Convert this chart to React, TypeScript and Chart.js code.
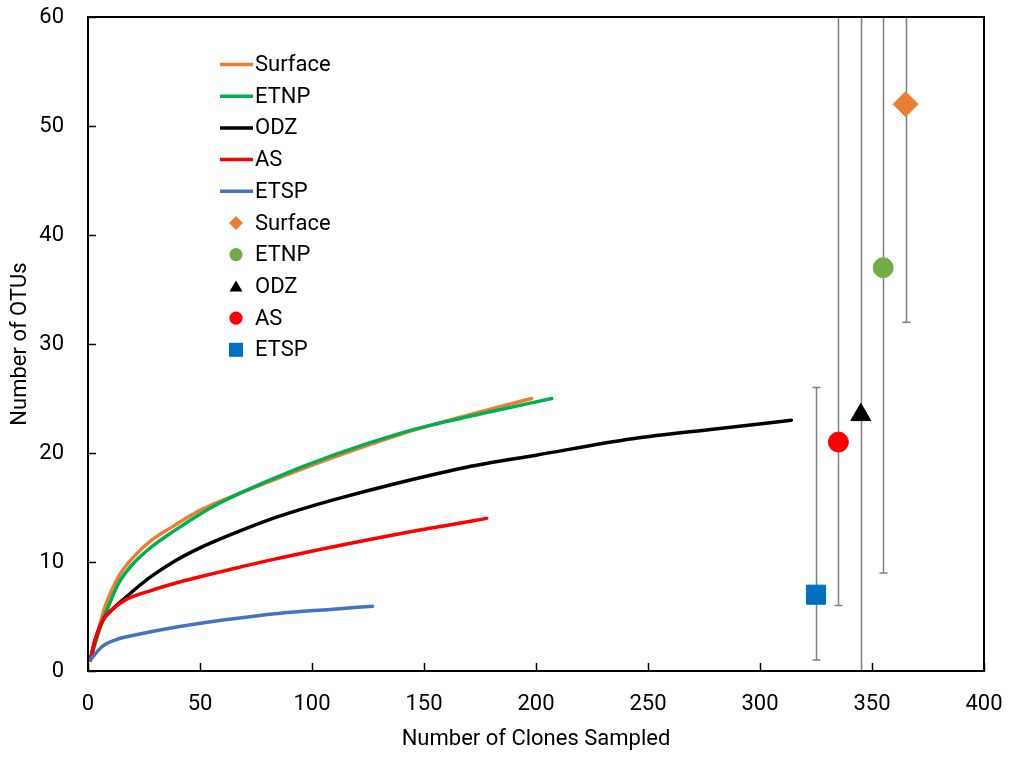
import React, { useEffect, useRef } from 'react';
import { Chart, registerables } from 'chart.js';

Chart.register(...registerables);

// ---------- data ----------
const seriesNames = ['Surface', 'ETNP', 'ODZ', 'AS', 'ETSP'];
const lineColors = ['#ED7D31', '#00B050', '#000000', '#FF0000', '#4472C4'];

const surfaceX = [1, 4.6, 7.6, 10.6, 15, 21, 28.4, 37.4, 47.8, 58.2, 80, 109.5, 139.3, 170, 198];
const surfaceY = [1, 3.76, 5.9, 7.4, 9.1, 10.6, 12.0, 13.2, 14.5, 15.5, 17.3, 19.6, 21.7, 23.5, 25];

const etnpX = [1, 5.6, 9.1, 13.5, 19.5, 28.4, 38.8, 49.2, 59.7, 79.8, 109.5, 139.3, 154, 180, 207];
const etnpY = [1, 4.1, 5.9, 8.0, 9.7, 11.4, 12.9, 14.3, 15.5, 17.4, 19.8, 21.8, 22.6, 23.8, 25];

const odzX = [1, 3.1, 6.8, 10.6, 16, 21, 28.4, 38.8, 50, 61.2, 79.8, 94.6, 109.5, 139.3, 169, 200, 243, 280, 314];
const odzY = [1, 2.8, 4.7, 5.6, 6.6, 7.5, 8.7, 10.1, 11.3, 12.3, 13.8, 14.8, 15.7, 17.3, 18.7, 19.8, 21.3, 22.2, 23.0];

const asX = [1, 3.1, 6.8, 10.6, 16.5, 28.4, 43.3, 50, 61.2, 79.8, 109.5, 139.3, 160, 178];
const asY = [1, 2.8, 4.7, 5.6, 6.5, 7.4, 8.3, 8.65, 9.2, 10.1, 11.4, 12.6, 13.35, 14.0];

const etspX = [1, 6.1, 12.1, 21, 35.8, 61.2, 86, 108, 127];
const etspY = [1, 2.2, 2.84, 3.3, 3.9, 4.7, 5.3, 5.65, 5.95];

const lineXs = [surfaceX, etnpX, odzX, asX, etspX];
const lineYs = [surfaceY, etnpY, odzY, asY, etspY];

const markerX = [365, 355, 345, 335, 325];
const markerY = [52, 37, 23.5, 21, 7];
const markerLow = [32, 9, -5, 6, 1];
const markerHigh = [90, 90, 90, 90, 26];
const markerColors = ['#ED7D31', '#70AD47', '#000000', '#FF0000', '#0070C0'];
const markerStyles = ['rectRot', 'circle', 'triangle', 'circle', 'rect'];
const markerRadii = [12.5, 10, 11.5, 10, 13.5];

const xTicks = [0, 50, 100, 150, 200, 250, 300, 350, 400];
const yTicks = [0, 10, 20, 30, 40, 50, 60];

const xTitle = 'Number of Clones Sampled';
const yTitle = 'Number of OTUs';

// ---------- styling ----------
const FAMILY = 'Roboto';
const FSIZE = 22;

function drawLegendMarker(ctx: CanvasRenderingContext2D, style: string, x: number, y: number, color: string) {
  ctx.fillStyle = color;
  ctx.beginPath();
  if (style === 'rectRot') {
    const r = 7;
    ctx.moveTo(x - r, y);
    ctx.lineTo(x, y - r);
    ctx.lineTo(x + r, y);
    ctx.lineTo(x, y + r);
    ctx.closePath();
  } else if (style === 'circle') {
    ctx.arc(x, y, 6.6, 0, Math.PI * 2);
  } else if (style === 'triangle') {
    ctx.moveTo(x, y - 6);
    ctx.lineTo(x + 6.5, y + 5);
    ctx.lineTo(x - 6.5, y + 5);
    ctx.closePath();
  } else {
    ctx.rect(x - 7, y - 7, 14, 14);
  }
  ctx.fill();
}

const decorPlugin = {
  id: 'decor',
  beforeDatasetsDraw(chart: any) {
    const { ctx, chartArea: a, scales } = chart;
    const xs = scales.x;
    const ys = scales.y;
    ctx.save();
    ctx.beginPath();
    ctx.rect(a.left, a.top, a.right - a.left, a.bottom - a.top);
    ctx.clip();
    ctx.strokeStyle = '#808080';
    ctx.lineWidth = 1.5;
    markerX.forEach((mx, i) => {
      const px = Math.round(xs.getPixelForValue(mx)) + 0.5;
      const lo = ys.getPixelForValue(markerLow[i]);
      const hi = ys.getPixelForValue(markerHigh[i]);
      ctx.beginPath();
      ctx.moveTo(px, lo);
      ctx.lineTo(px, hi);
      ctx.moveTo(px - 4, lo);
      ctx.lineTo(px + 4, lo);
      ctx.moveTo(px - 4, hi);
      ctx.lineTo(px + 4, hi);
      ctx.stroke();
    });
    ctx.restore();
  },
  afterDraw(chart: any) {
    const { ctx, chartArea: a, scales } = chart;
    const xs = scales.x;
    const ys = scales.y;
    ctx.save();
    // frame
    ctx.strokeStyle = '#000';
    ctx.lineWidth = 2;
    ctx.strokeRect(a.left, a.top, a.right - a.left, a.bottom - a.top);
    // inward ticks
    ctx.lineWidth = 1.5;
    ctx.beginPath();
    xTicks.forEach((t) => {
      const px = Math.round(xs.getPixelForValue(t)) + 0.5;
      ctx.moveTo(px, a.bottom);
      ctx.lineTo(px, a.bottom - 8);
    });
    yTicks.forEach((t) => {
      const py = Math.round(ys.getPixelForValue(t)) + 0.5;
      ctx.moveTo(a.left, py);
      ctx.lineTo(a.left + 8, py);
    });
    ctx.stroke();

    // legend
    const lx0 = 220;
    const lx1 = 253;
    const tx = 255;
    const y0 = 64.5;
    const dy = 31.7;
    ctx.font = `${FSIZE}px ${FAMILY}`;
    ctx.textBaseline = 'middle';
    ctx.textAlign = 'left';
    let row = 0;
    seriesNames.forEach((name, i) => {
      const yy = y0 + dy * row;
      ctx.strokeStyle = lineColors[i];
      ctx.lineWidth = 3.5;
      ctx.beginPath();
      ctx.moveTo(lx0, yy);
      ctx.lineTo(lx1, yy);
      ctx.stroke();
      ctx.fillStyle = '#000';
      ctx.fillText(name, tx, yy + 1);
      row++;
    });
    seriesNames.forEach((name, i) => {
      const yy = y0 + dy * row;
      drawLegendMarker(ctx, markerStyles[i], 236, yy, markerColors[i]);
      ctx.fillStyle = '#000';
      ctx.fillText(name, tx, yy + 1);
      row++;
    });
    ctx.restore();
  },
};

export default function App() {
  const ref = useRef<HTMLCanvasElement>(null);

  useEffect(() => {
    if (!ref.current) return;
    const lineSets = seriesNames.map((name, i) => ({
      label: name,
      data: lineXs[i].map((x, j) => ({ x, y: lineYs[i][j] })),
      showLine: true,
      borderColor: lineColors[i],
      backgroundColor: lineColors[i],
      borderWidth: 3.5,
      borderCapStyle: 'round' as const,
      borderJoinStyle: 'round' as const,
      pointRadius: 0,
      cubicInterpolationMode: 'monotone' as const,
      fill: false,
      order: 10 - i,
    }));
    const markerSets = seriesNames.map((name, i) => ({
      label: name + ' obs',
      data: [{ x: markerX[i], y: markerY[i] }],
      showLine: false,
      pointStyle: markerStyles[i],
      pointRadius: markerRadii[i],
      pointBackgroundColor: markerColors[i],
      pointBorderColor: markerColors[i],
      pointBorderWidth: 1,
      order: i,
    }));

    const font = { family: FAMILY, size: FSIZE };
    const chart = new Chart(ref.current, {
      type: 'scatter',
      data: { datasets: [...lineSets, ...markerSets] as any },
      options: {
        responsive: false,
        animation: false,
        events: [],
        layout: { padding: { top: 17, right: 25, left: 0, bottom: 0 } },
        plugins: {
          legend: { display: false },
          tooltip: { enabled: false },
        },
        scales: {
          x: {
            type: 'linear',
            min: 0,
            max: 400,
            afterBuildTicks: (s: any) => {
              s.ticks = xTicks.map((v) => ({ value: v }));
            },
            ticks: { font, color: '#000', padding: 20, maxRotation: 0 },
            grid: { display: false, drawTicks: false },
            border: { display: false },
            title: { display: true, text: xTitle, font, color: '#000', padding: { top: 0, bottom: 4 } },
            afterFit: (s: any) => {
              s.height = 86;
              s.paddingLeft = 0;
              s.paddingRight = 0;
            },
          },
          y: {
            type: 'linear',
            min: 0,
            max: 60,
            afterBuildTicks: (s: any) => {
              s.ticks = yTicks.map((v) => ({ value: v }));
            },
            ticks: { font, color: '#000', padding: 24 },
            grid: { display: false, drawTicks: false },
            border: { display: false },
            title: { display: true, text: yTitle, font, color: '#000', padding: { top: 7, bottom: 0 } },
            afterFit: (s: any) => {
              s.width = 88;
              s.paddingTop = 0;
              s.paddingBottom = 0;
            },
          },
        },
      },
      plugins: [decorPlugin],
    });
    return () => chart.destroy();
  }, []);

  return (
    <div style={{ position: 'absolute', left: 0, top: 0, width: 1009, height: 757, background: '#fff' }}>
      <canvas ref={ref} width={1009} height={757} style={{ display: 'block', width: 1009, height: 757 }} />
    </div>
  );
}
